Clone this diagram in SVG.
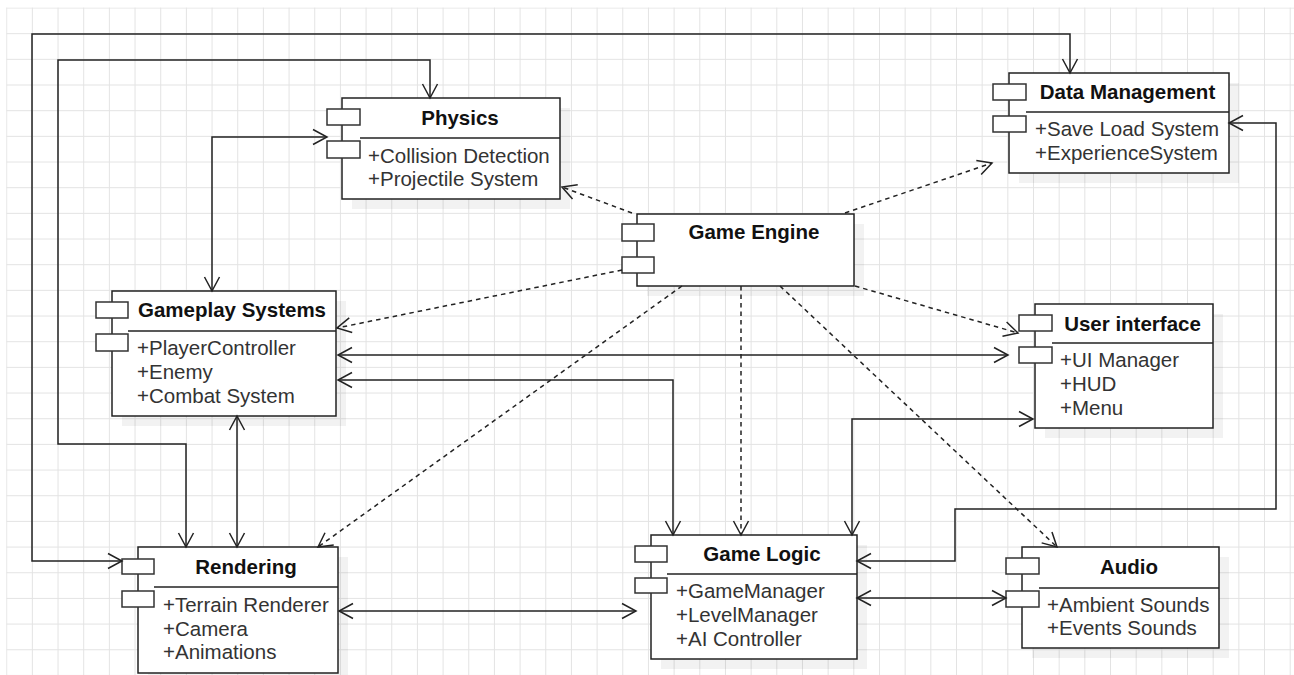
<svg xmlns="http://www.w3.org/2000/svg" width="1294" height="675" viewBox="0 0 1294 675">
<style>
.box{fill:#fff;stroke:#222;stroke-width:1.5}
.sh{fill:#000;fill-opacity:0.05}
.port{fill:#fff;stroke:#333;stroke-width:1.5}
.div{stroke:#222;stroke-width:1.5}
.title{font-family:"Liberation Sans",Arial,sans-serif;font-weight:bold;font-size:20.5px;fill:#111;text-anchor:middle}
.item{font-family:"Liberation Sans",Arial,sans-serif;font-size:20.5px;fill:#333}
.c{fill:none;stroke:#222;stroke-width:1.5;marker-start:url(#arr);marker-end:url(#arr)}
.d{fill:none;stroke:#222;stroke-width:1.5;stroke-dasharray:4.5 4;marker-end:url(#arr)}
</style>
<defs>
<pattern id="grid" x="6.2" y="7.5" width="25.67" height="25.67" patternUnits="userSpaceOnUse">
<path d="M0.5,0V25.67M0,0.5H25.67" stroke="#e3e3e3" stroke-width="1" fill="none"/>
</pattern>
<marker id="arr" viewBox="-17 -10 20 20" refX="0" refY="0" markerWidth="20" markerHeight="20" markerUnits="userSpaceOnUse" orient="auto-start-reverse">
<path d="M-14,-7.5L0,0L-14,7.5" fill="none" stroke="#222" stroke-width="1.5"/>
</marker>
</defs>
<rect width="1294" height="675" fill="#fff"/>
<rect x="6.2" y="7.5" width="1288" height="668" fill="url(#grid)"/>

<g id="physics">
<rect class="sh" x="352" y="108" width="218" height="101"/>
<rect class="box" x="342" y="98" width="218" height="101"/>
<line class="div" x1="360" y1="138" x2="560" y2="138"/>
<rect class="port" x="327" y="109" width="33" height="16"/>
<rect class="port" x="327" y="141" width="33" height="17"/>
<text class="title" x="460" y="125">Physics</text>
<text class="item" x="368" y="163">+Collision Detection</text>
<text class="item" x="368" y="186">+Projectile System</text>
</g>

<g id="data-management">
<rect class="sh" x="1019" y="83" width="220" height="100"/>
<rect class="box" x="1009" y="73" width="220" height="100"/>
<line class="div" x1="1026" y1="112" x2="1229" y2="112"/>
<rect class="port" x="993" y="84" width="33" height="16"/>
<rect class="port" x="993" y="116" width="33" height="16"/>
<text class="title" x="1127.5" y="99">Data Management</text>
<text class="item" x="1035" y="136">+Save Load System</text>
<text class="item" x="1035" y="160">+ExperienceSystem</text>
</g>

<g id="game-engine">
<rect class="sh" x="647" y="224" width="217" height="72"/>
<rect class="box" x="637" y="214" width="217" height="72"/>
<rect class="port" x="622" y="224" width="32" height="17"/>
<rect class="port" x="622" y="257" width="32" height="16"/>
<text class="title" x="754" y="239">Game Engine</text>
</g>

<g id="gameplay-systems">
<rect class="sh" x="122" y="301" width="224" height="125"/>
<rect class="box" x="112" y="291" width="224" height="125"/>
<line class="div" x1="128" y1="331" x2="336" y2="331"/>
<rect class="port" x="96" y="302" width="32" height="16"/>
<rect class="port" x="96" y="334" width="32" height="17"/>
<text class="title" x="232" y="317">Gameplay Systems</text>
<text class="item" x="137" y="355">+PlayerController</text>
<text class="item" x="137" y="379">+Enemy</text>
<text class="item" x="137" y="403">+Combat System</text>
</g>

<g id="user-interface">
<rect class="sh" x="1045" y="314" width="178" height="124"/>
<rect class="box" x="1035" y="304" width="178" height="124"/>
<line class="div" x1="1052" y1="343" x2="1213" y2="343"/>
<rect class="port" x="1019" y="315" width="33" height="16"/>
<rect class="port" x="1019" y="347" width="33" height="16"/>
<text class="title" x="1132.5" y="331">User interface</text>
<text class="item" x="1060" y="367">+UI Manager</text>
<text class="item" x="1060" y="391">+HUD</text>
<text class="item" x="1060" y="415">+Menu</text>
</g>

<g id="rendering">
<rect class="sh" x="148" y="557" width="200" height="126"/>
<rect class="box" x="138" y="547" width="200" height="126"/>
<line class="div" x1="154" y1="587" x2="338" y2="587"/>
<rect class="port" x="122" y="559" width="32" height="15"/>
<rect class="port" x="122" y="591" width="32" height="16"/>
<text class="title" x="246" y="574">Rendering</text>
<text class="item" x="163" y="612">+Terrain Renderer</text>
<text class="item" x="163" y="636">+Camera</text>
<text class="item" x="163" y="659">+Animations</text>
</g>

<g id="game-logic">
<rect class="sh" x="661" y="545" width="206" height="124"/>
<rect class="box" x="651" y="535" width="206" height="124"/>
<line class="div" x1="667" y1="574" x2="857" y2="574"/>
<rect class="port" x="635" y="546" width="32" height="16"/>
<rect class="port" x="635" y="578" width="32" height="15"/>
<text class="title" x="762" y="561">Game Logic</text>
<text class="item" x="676" y="598">+GameManager</text>
<text class="item" x="676" y="622">+LevelManager</text>
<text class="item" x="676" y="646">+AI Controller</text>
</g>

<g id="audio">
<rect class="sh" x="1032" y="557" width="197" height="101"/>
<rect class="box" x="1022" y="547" width="197" height="101"/>
<line class="div" x1="1039" y1="588" x2="1219" y2="588"/>
<rect class="port" x="1006" y="558" width="33" height="16"/>
<rect class="port" x="1006" y="591" width="33" height="16"/>
<text class="title" x="1129" y="574">Audio</text>
<text class="item" x="1047" y="612">+Ambient Sounds</text>
<text class="item" x="1047" y="635">+Events Sounds</text>
</g>

<g id="connectors">
<path class="c" d="M1070,73V34H32V561H122"/>
<path class="c" d="M430,98V60H58V444H186V547"/>
<path class="c" d="M327,137H212V291"/>
<path class="c" d="M237,416V547"/>
<path class="c" d="M338,355H1008"/>
<path class="c" d="M338,380H673V535"/>
<path class="c" d="M1033,419H852V535"/>
<path class="c" d="M1229,123H1276V509H955V561H857"/>
<path class="c" d="M339,611H636"/>
<path class="c" d="M857,598H1006"/>
<path class="d" d="M632,213L562,187"/>
<path class="d" d="M845,213L992,163"/>
<path class="d" d="M622,270L337,328"/>
<path class="d" d="M855,286L1018,333"/>
<path class="d" d="M682,286L318,547"/>
<path class="d" d="M741,286L741,535"/>
<path class="d" d="M780,286L1057,547"/>
</g>
</svg>
